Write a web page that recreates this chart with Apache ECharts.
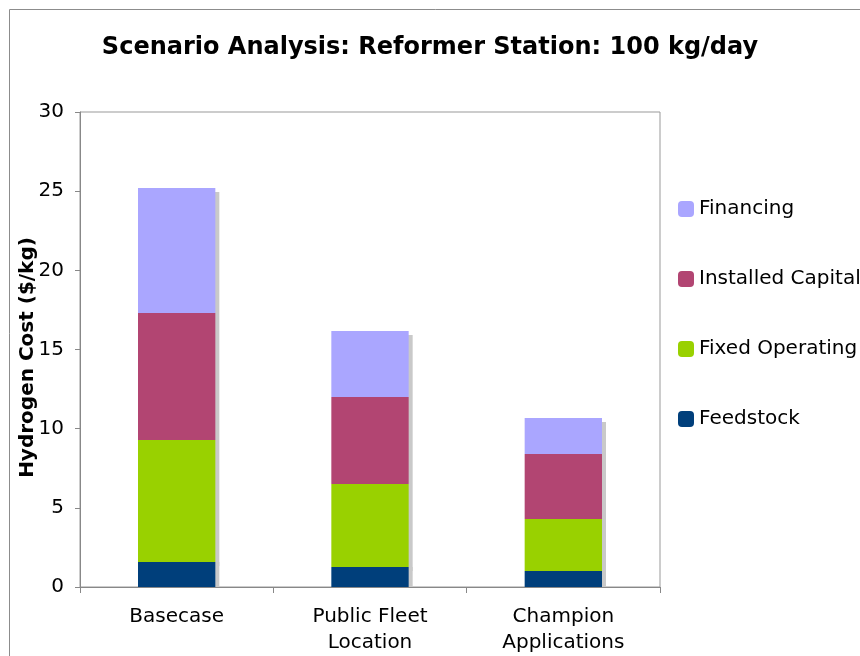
<!DOCTYPE html>
<html>
<head>
<meta charset="utf-8">
<script src="https://cdn.jsdelivr.net/npm/echarts@6/dist/echarts.min.js"></script>
<style>
  html, body { margin: 0; padding: 0; background: #fff; }
  #mChart { width: 860px; height: 656px; }
</style>
</head>
<body>
<div id="mChart"></div>
<script>
  // data
  var categories = ['Basecase', 'Public Fleet\nLocation', 'Champion\nApplications'];
  var feedstock = [1.58, 1.26, 1.01];
  var fixedOperating = [7.71, 5.24, 3.29];
  var installedCapital = [8.02, 5.5, 4.1];
  var financing = [7.89, 4.17, 2.28];
  var yTicks = [0, 5, 10, 15, 20, 25, 30];

  var font = 'DejaVu Sans, Verdana, sans-serif';
  var myChart = echarts.init(document.getElementById('mChart'));

  function seg(name, data, color, z, offY) {
    return {
      name: name,
      type: 'bar',
      stack: 'cost',
      barWidth: '40%',
      z: z,
      data: data,
      itemStyle: {
        color: color,
        shadowColor: '#c9c9c9',
        shadowBlur: 0,
        shadowOffsetX: 4,
        shadowOffsetY: offY
      },
      emphasis: { disabled: true }
    };
  }

  myChart.setOption({
    animation: false,
    textStyle: { fontFamily: font },
    title: {
      text: 'Scenario Analysis: Reformer Station: 100 kg/day',
      left: 'center',
      top: 31,
      textStyle: { fontFamily: font, fontSize: 24, fontWeight: 'bold', color: '#000' }
    },
    graphic: [{
      type: 'rect',
      shape: { x: 9.5, y: 9.5, width: 900, height: 700 },
      style: { fill: 'none', stroke: '#8c8c8c', lineWidth: 1 },
      silent: true
    }],
    legend: {
      orient: 'vertical',
      left: 678,
      top: 199,
      padding: 0,
      itemWidth: 16,
      itemHeight: 16,
      itemGap: 50,
      data: ['Financing', 'Installed Capital', 'Fixed Operating', 'Feedstock'],
      textStyle: { fontFamily: font, fontSize: 20, color: '#000' },
      selectedMode: false
    },
    grid: {
      left: 80, right: 200, top: 112, bottom: 69,
      outerBoundsMode: 'none',
      show: true,
      borderColor: '#999',
      borderWidth: 1,
      backgroundColor: '#fff'
    },
    xAxis: {
      type: 'category',
      data: categories,
      axisLine: { lineStyle: { color: '#888' } },
      axisTick: { show: true, length: 6, lineStyle: { color: '#888' } },
      axisLabel: { fontFamily: font, fontSize: 20, color: '#000', margin: 17, lineHeight: 26 }
    },
    yAxis: {
      type: 'value',
      min: yTicks[0],
      max: yTicks[yTicks.length - 1],
      interval: 5,
      name: 'Hydrogen Cost ($/kg)',
      nameLocation: 'middle',
      nameGap: 42,
      nameMoveOverlap: false,
      nameTextStyle: { fontFamily: font, fontSize: 20, fontWeight: 'bold', color: '#000', padding: [0, 16, 0, 0] },
      axisLine: { show: true, lineStyle: { color: '#888' } },
      axisTick: { show: true, length: 5, lineStyle: { color: '#888' } },
      splitLine: { show: false },
      axisLabel: { fontFamily: font, fontSize: 20, color: '#000', margin: 16 }
    },
    series: [
      seg('Feedstock', feedstock, '#003f7b', 5, 0),
      seg('Fixed Operating', fixedOperating, '#99d100', 4, 4),
      seg('Installed Capital', installedCapital, '#b24572', 3, 4),
      seg('Financing', financing, '#aaa6ff', 2, 4)
    ]
  });
</script>
</body>
</html>
